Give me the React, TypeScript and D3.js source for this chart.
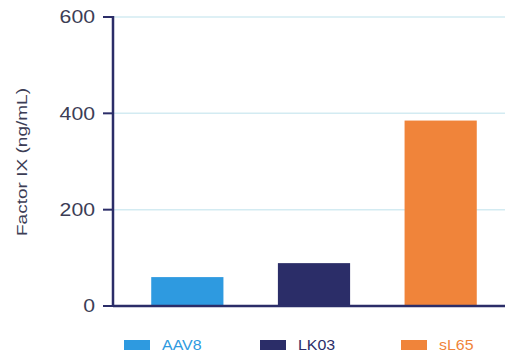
import React from "react";
import * as d3 from "d3";

const categories = ["AAV8", "LK03", "sL65"];
const values = [60, 89, 385];
const colors = ["#2e9ae0", "#2b2d68", "#f0843a"];
const yTicks = [0, 200, 400, 600];
const yLabel = "Factor IX (ng/mL)";

const W = 505;
const H = 359;
const axisX = 113;
const x0 = 124;
const x1 = 504;
const y0 = 306;
const yTop = 17;

export default function App() {
  const x = d3
    .scaleBand<string>()
    .domain(categories)
    .range([x0, x1])
    .paddingInner(0.43)
    .paddingOuter(0.215);
  const y = d3.scaleLinear().domain([0, 600]).range([y0, yTop]);
  const navy = "#2b2d68";
  const textGrey = "#3c3d55";
  const legendX = [124, 260, 401];
  const font = "'Liberation Sans', Arial, Helvetica, sans-serif";

  return (
    <svg
      width={W}
      height={H}
      style={{ position: "absolute", left: 0, top: 0, background: "#fff" }}
      fontFamily={font}
    >
      {/* grid lines */}
      {yTicks
        .filter((t) => t > 0)
        .map((t) => (
          <line
            key={"g" + t}
            x1={axisX}
            x2={W}
            y1={y(t)}
            y2={y(t)}
            stroke="#d3ebf2"
            strokeWidth={1.5}
          />
        ))}
      {/* bars */}
      {categories.map((c, i) => (
        <rect
          key={c}
          x={x(c)}
          y={y(values[i])}
          width={x.bandwidth()}
          height={y0 - y(values[i])}
          fill={colors[i]}
        />
      ))}
      {/* axes */}
      <line x1={axisX} x2={W} y1={y0} y2={y0} stroke={navy} strokeWidth={2.5} />
      <line x1={axisX} x2={axisX} y1={yTop - 1} y2={y0 + 1} stroke={navy} strokeWidth={2.5} />
      {yTicks.map((t) => (
        <g key={"t" + t}>
          <line x1={103} x2={axisX} y1={y(t)} y2={y(t)} stroke={navy} strokeWidth={2} />
          <g transform={`translate(95,${y(t)}) scale(1.18,1)`}>
            <text dy="0.36em" textAnchor="end" fontSize={18} fill={textGrey}>
              {t}
            </text>
          </g>
        </g>
      ))}
      <g transform={`translate(22,162) rotate(-90) scale(1.36,1)`}>
        <text textAnchor="middle" dy="0.36em" fontSize={14} fill={textGrey}>
          {yLabel}
        </text>
      </g>
      {/* legend */}
      {categories.map((c, i) => (
        <g key={"l" + c} transform={`translate(${legendX[i]},345)`}>
          <rect x={0} y={-5} width={26} height={10} fill={colors[i]} />
          <g transform="translate(38,0) scale(1.14,1)">
            <text dy="0.36em" fontSize={14} fill={colors[i]}>
              {c}
            </text>
          </g>
        </g>
      ))}
    </svg>
  );
}
